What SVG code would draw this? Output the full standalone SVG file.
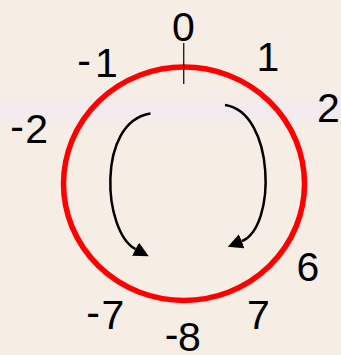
<svg xmlns="http://www.w3.org/2000/svg" width="341" height="355" viewBox="0 0 341 355">
  <style>
    .lbl { font-family: "Liberation Sans", Arial, sans-serif; font-size: 41px; fill: #000; text-anchor: middle; }
    .arc { fill: none; stroke: #000; stroke-width: 2.5; }
  </style>
  <defs>
    <marker id="head" viewBox="0 -7.5 15 15" refX="0" refY="0" markerWidth="15" markerHeight="15" markerUnits="userSpaceOnUse" orient="auto">
      <path d="M0,-7.5 L15,0 L0,7.5 z" fill="#000"/>
    </marker>
    <linearGradient id="band" x1="0" y1="0" x2="0" y2="1">
      <stop offset="0" stop-color="#f1e8f2" stop-opacity="0"/>
      <stop offset="0.5" stop-color="#f1e8f2" stop-opacity="0.7"/>
      <stop offset="1" stop-color="#f1e8f2" stop-opacity="0"/>
    </linearGradient>
  </defs>
  <g id="background">
    <rect x="0" y="0" width="341" height="355" fill="#f6eee4"/>
    <rect x="0" y="85" width="341" height="50" fill="url(#band)"/>
  </g>
  <g id="wheel">
    <ellipse cx="184" cy="183.7" rx="120.5" ry="116.7" fill="none" stroke="#ff0000" stroke-width="5.5"/>
    <line x1="183.7" y1="43" x2="183.7" y2="84" stroke="#222" stroke-width="1.4"/>
  </g>
  <g id="connectors">
    <path class="arc" d="M150.5,113.5 C96,122 103,232 135.5,249.2" marker-end="url(#head)"/>
    <path class="arc" d="M225,105 C275,112 276.7,227.5 241.7,241.2" marker-end="url(#head)"/>
  </g>
  <g id="labels">
    <text class="lbl" x="183.5" y="41">0</text>
    <text class="lbl" x="268" y="71">1</text>
    <text class="lbl" x="328.5" y="121.5">2</text>
    <text class="lbl"><tspan x="84" y="74">-</tspan><tspan x="106.5" y="77">1</tspan></text>
    <text class="lbl"><tspan x="17" y="140">-</tspan><tspan x="36.7" y="143">2</tspan></text>
    <text class="lbl" x="308" y="281">6</text>
    <text class="lbl"><tspan x="93" y="326">-</tspan><tspan x="113" y="329">7</tspan></text>
    <text class="lbl" x="258.5" y="329">7</text>
    <text class="lbl"><tspan x="171.5" y="348">-</tspan><tspan x="189.5" y="351">8</tspan></text>
  </g>
</svg>
